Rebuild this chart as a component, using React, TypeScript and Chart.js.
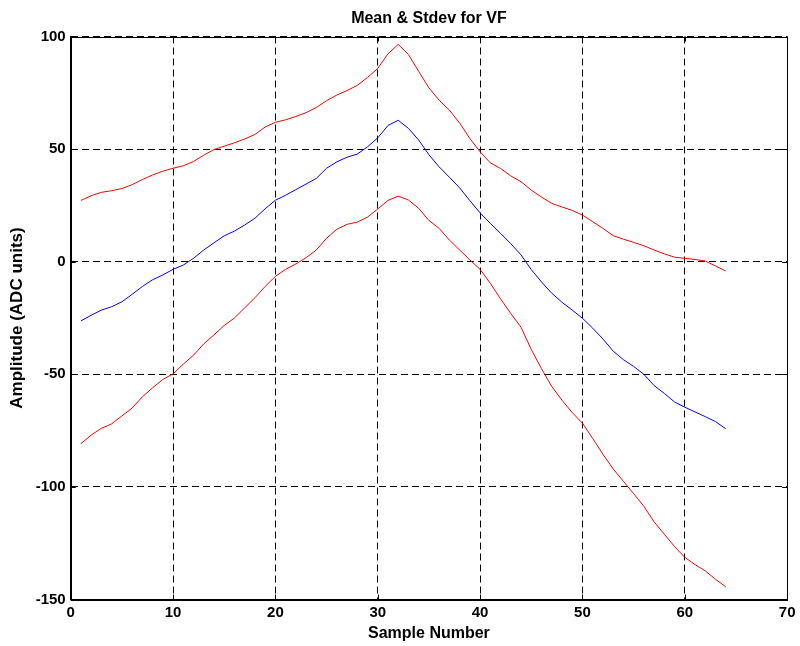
import React, { useEffect, useRef } from "react";
import { Chart, registerables } from "chart.js";

Chart.register(...registerables);

const sampleNumbers = [
  1, 2, 3, 4, 5, 6, 7, 8, 9, 10, 11, 12, 13, 14, 15, 16, 17, 18, 19, 20, 21, 22, 23, 24, 25, 26, 27, 28, 29, 30, 31, 32,
  33, 34, 35, 36, 37, 38, 39, 40, 41, 42, 43, 44, 45, 46, 47, 48, 49, 50, 51, 52, 53, 54, 55, 56, 57, 58, 59, 60, 61, 62,
  63, 64,
];

const meanPlusStd = [
  27.2, 29.3, 30.8, 31.5, 32.5, 34.2, 36.5, 38.5, 40.2, 41.5, 42.6, 44.5, 47.3, 49.8, 51.3, 52.8, 54.5, 56.5, 59.8, 61.9,
  63, 64.5, 66.2, 68.5, 71.5, 74, 76, 78.3, 81.8, 85.8, 92.3, 96.5, 92, 84.5, 77.2, 71.7, 67.3, 61.6, 54.7, 48.8, 43.9,
  41.4, 38.1, 35.5, 31.8, 28.7, 25.9, 24.3, 22.8, 20.7, 17.8, 14.8, 11.6, 10, 8.6, 7.1, 5.2, 3.5, 2, 1.5, 1, 0.3, -1.9,
  -4.1,
];

const meanValues = [
  -26.3, -23.8, -21.5, -20, -17.8, -14.5, -11, -8, -5.9, -3.4, -1.5, 1.5, 5.2, 8.4, 11.5, 13.6, 16.3, 19.3, 23.5, 27.3,
  29.5, 32, 34.5, 37, 41.5, 44.3, 46.4, 47.8, 51, 55, 60.5, 62.8, 59.2, 54, 47.5, 42.1, 37.5, 32.8, 27.1, 21.7, 17, 12.6,
  8, 3, -3.5, -9, -14, -18, -21.5, -25.1, -29.5, -34.3, -39.7, -43.5, -46.5, -50, -55, -58.5, -62.3, -64.6, -66.7, -68.8,
  -71, -74.2,
];

const meanMinusStd = [
  -80.8, -77, -74, -72, -68.5, -65, -60, -56, -52.3, -49.8, -45.5, -41.5, -36.5, -32.5, -28.3, -25, -20.5, -16, -11,
  -6.5, -3.4, -1, 1.8, 5.2, 10.4, 14.4, 16.6, 17.6, 19.8, 23.4, 27.2, 29.1, 27.4, 23.7, 18.3, 14.8, 9.6, 5.2, 0.8, -3.4,
  -9.6, -16.5, -23, -29.1, -39, -47.5, -55.4, -61.5, -67, -71.7, -78.5, -85.5, -92, -97.5, -103, -108.6, -115.5, -121,
  -126.5, -131.3, -134.5, -137.3, -141, -144.4,
];

const titleText = "Mean & Stdev for VF";
const xTitle = "Sample Number";
const yTitle = "Amplitude (ADC units)";

const FONT = "'Liberation Sans', Arial, Helvetica, sans-serif";

const framePlugin = {
  id: "matlabFrame",
  afterDatasetsDraw(chart: any) {
    const { ctx, chartArea, scales } = chart;
    const { left, right, top, bottom } = chartArea;
    ctx.save();
    ctx.strokeStyle = "#000";
    ctx.lineWidth = 1;
    ctx.setLineDash([]);
    const tl = 5;
    ctx.beginPath();
    scales.x.ticks.forEach((t: any) => {
      const px = Math.round(scales.x.getPixelForValue(t.value)) + 0.5;
      ctx.moveTo(px, bottom);
      ctx.lineTo(px, bottom - tl);
      ctx.moveTo(px, top);
      ctx.lineTo(px, top + tl);
    });
    scales.y.ticks.forEach((t: any) => {
      const py = Math.round(scales.y.getPixelForValue(t.value)) + 0.5;
      ctx.moveTo(left, py);
      ctx.lineTo(left + tl, py);
      ctx.moveTo(right, py);
      ctx.lineTo(right - tl, py);
    });
    ctx.stroke();
    ctx.strokeRect(Math.round(left) + 0.5, Math.round(top) + 0.5, Math.round(right - left), Math.round(bottom - top));
    ctx.restore();
  },
};

export default function App() {
  const canvasRef = useRef<HTMLCanvasElement | null>(null);

  useEffect(() => {
    if (!canvasRef.current) return;
    const mk = (vals: number[]) => sampleNumbers.map((x, i) => ({ x, y: vals[i] }));
    const chart = new Chart(canvasRef.current, {
      type: "line",
      data: {
        datasets: [
          { label: "Mean + Stdev", data: mk(meanPlusStd), borderColor: "#ff0000", borderWidth: 1, pointRadius: 0, tension: 0, fill: false },
          { label: "Mean", data: mk(meanValues), borderColor: "#0000ff", borderWidth: 1, pointRadius: 0, tension: 0, fill: false },
          { label: "Mean - Stdev", data: mk(meanMinusStd), borderColor: "#ff0000", borderWidth: 1, pointRadius: 0, tension: 0, fill: false },
        ],
      },
      options: {
        animation: false,
        responsive: false,
        maintainAspectRatio: false,
        layout: { padding: { top: 0, right: 10.6, left: 0, bottom: 0 } },
        plugins: {
          legend: { display: false },
          tooltip: { enabled: false },
          title: {
            display: true,
            text: titleText,
            fullSize: false,
            color: "#000",
            font: { family: FONT, size: 16, weight: "bold" },
            padding: { top: 9, bottom: 8.3 },
          },
        },
        scales: {
          x: {
            type: "linear",
            min: 0,
            max: 70,
            afterFit: (s: any) => {
              s.height = 46.5;
            },
            ticks: {
              stepSize: 10,
              autoSkip: false,
              color: "#000",
              padding: 4.5,
              maxRotation: 0,
              font: { family: FONT, size: 15, weight: "bold" },
            },
            grid: { color: "#000", lineWidth: 1, drawTicks: false },
            border: { display: true, color: "#000", width: 1, dash: [7, 4] },
            title: {
              display: true,
              text: xTitle,
              color: "#000",
              font: { family: FONT, size: 16, weight: "bold" },
              padding: { top: 0, bottom: 3.1 },
            },
          },
          y: {
            type: "linear",
            min: -150,
            max: 100,
            afterFit: (s: any) => {
              s.width = 70.7;
            },
            ticks: {
              stepSize: 50,
              autoSkip: false,
              color: "#000",
              padding: 5,
              font: { family: FONT, size: 15, weight: "bold" },
            },
            grid: { color: "#000", lineWidth: 1, drawTicks: false },
            border: { display: true, color: "#000", width: 1, dash: [7, 4] },
            title: {
              display: true,
              text: yTitle,
              color: "#000",
              font: { family: FONT, size: 17, weight: "bold" },
              padding: { top: 6.8, bottom: 0 },
            },
          },
        },
      },
      plugins: [framePlugin],
    } as any);
    return () => chart.destroy();
  }, []);

  return (
    <div style={{ position: "absolute", left: 0, top: 0, width: 800, height: 646, background: "#fff" }}>
      <canvas ref={canvasRef} width={800} height={646} style={{ display: "block", width: 800, height: 646 }} />
    </div>
  );
}
